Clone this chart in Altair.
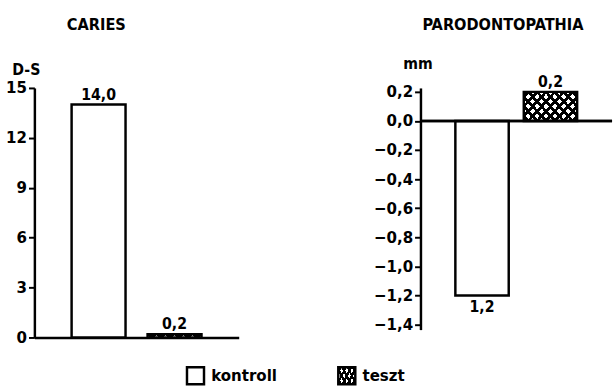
import altair as alt
import pandas as pd

groups = ["kontroll", "teszt"]
caries_values = [14.0, 0.2]
caries_labels = ["14,0", "0,2"]
paro_values = [-1.2, 0.2]
paro_labels = ["1,2", "0,2"]
caries_ticks = [0, 3, 6, 9, 12, 15]
paro_ticks = [0.2, 0.0, -0.2, -0.4, -0.6, -0.8, -1.0, -1.2, -1.4]

FONT = "DejaVu Sans Condensed, Liberation Sans Narrow, DejaVu Sans, sans-serif"
CLEAR = "rgba(0,0,0,0)"
SW = 2.5


def hatch(x1, y1, x2, y2, n=9, w=0.42):
    stops = [alt.GradientStop(color=CLEAR, offset=0)]
    for i in range(n):
        a = (i + (1 - w) / 2) / n
        b = a + w / n
        stops += [
            alt.GradientStop(color=CLEAR, offset=a),
            alt.GradientStop(color="black", offset=a),
            alt.GradientStop(color="black", offset=b),
            alt.GradientStop(color=CLEAR, offset=b),
        ]
    stops.append(alt.GradientStop(color=CLEAR, offset=1))
    return alt.Gradient(gradient="linear", stops=stops, x1=x1, y1=y1, x2=x2, y2=y2)


H1 = hatch(0, 0, 1.2, 0.6)
H2 = hatch(1, 0, -0.2, 0.6)
L1 = hatch(0, 0, 1.2, 0.6, n=5, w=0.45)
L2 = hatch(1, 0, -0.2, 0.6, n=5, w=0.45)


def bars(df, x, y):
    base = alt.Chart(df)
    white = base.mark_bar(fill="white", strokeWidth=0).encode(x=x, y=y, y2=alt.datum(0))
    teszt = base.transform_filter(alt.datum.group == "teszt")
    h1 = teszt.mark_bar(fill=H1, strokeWidth=0).encode(x=x, y=y, y2=alt.datum(0))
    h2 = teszt.mark_bar(fill=H2, strokeWidth=0).encode(x=x, y=y, y2=alt.datum(0))
    outline = base.mark_bar(fill=CLEAR, stroke="black", strokeWidth=SW).encode(x=x, y=y, y2=alt.datum(0))
    pos = base.transform_filter(alt.datum.value >= 0).mark_text(
        baseline="bottom", dy=-2, font=FONT, fontSize=16, fontWeight="bold", color="black"
    ).encode(x=x, y=y, text="label:N")
    neg = base.transform_filter(alt.datum.value < 0).mark_text(
        baseline="top", dy=4, font=FONT, fontSize=16, fontWeight="bold", color="black"
    ).encode(x=x, y=y, text="label:N")
    return [white, h1, h2, outline, pos, neg]


df_c = pd.DataFrame({"group": groups, "value": caries_values, "label": caries_labels})
df_p = pd.DataFrame({"group": groups, "value": paro_values, "label": paro_labels})

xc = alt.X("group:N", scale=alt.Scale(domain=groups, paddingInner=0.29, paddingOuter=0.49),
           axis=alt.Axis(title=None, labels=False, ticks=False, domain=True))
yc = alt.Y("value:Q", scale=alt.Scale(domain=[0, 15], nice=False, zero=False),
           axis=alt.Axis(values=caries_ticks, tickCount=20, format="d", title="D-S", titleAngle=0,
                         titleX=-23, titleY=-14, titleAlign="left", titleBaseline="alphabetic",
                         titleFontSize=16))

left = alt.layer(*bars(df_c, xc, yc)).properties(
    width=208, height=254,
    title=alt.TitleParams("CARIES", anchor="start", frame="group", dx=33, offset=28,
                          font=FONT, fontSize=16.5, fontWeight="bold", color="black"),
)

xp = alt.X("group:N", scale=alt.Scale(domain=groups, paddingInner=0.22, paddingOuter=0.51), axis=None)
yp = alt.Y("value:Q", scale=alt.Scale(domain=[-1.434, 0.227], nice=False, zero=False),
           axis=alt.Axis(values=paro_ticks, tickCount=20,
                         labelExpr="replace(format(datum.value, '.1f'), '.', ',')",
                         title="mm", titleAngle=0, titleX=-18, titleY=-20, titleAlign="left",
                         titleBaseline="alphabetic", titleFontSize=16))
zero_rule = alt.Chart(df_p).mark_rule(color="black", strokeWidth=SW).encode(y=alt.datum(0))

right = alt.layer(*bars(df_p, xp, yp), zero_rule).properties(
    width=195, height=246,
    title=alt.TitleParams("PARODONTOPATHIA", anchor="start", frame="group", dx=2, offset=22,
                          font=FONT, fontSize=16.5, fontWeight="bold", color="black"),
)

df_l = pd.DataFrame({"group": groups})
xl = alt.X("group:N", scale=alt.Scale(type="point", domain=groups, range=[164, 318], padding=0), axis=None)
lbase = alt.Chart(df_l)
leg = alt.layer(
    lbase.mark_square(size=300, fill="white", strokeWidth=0, opacity=1).encode(x=xl, y=alt.value(10)),
    lbase.transform_filter(alt.datum.group == "teszt").mark_square(size=300, fill=L1, strokeWidth=0, opacity=1).encode(x=xl, y=alt.value(10)),
    lbase.transform_filter(alt.datum.group == "teszt").mark_square(size=300, fill=L2, strokeWidth=0, opacity=1).encode(x=xl, y=alt.value(10)),
    lbase.mark_square(size=300, fill=CLEAR, stroke="black", strokeWidth=SW, opacity=1).encode(x=xl, y=alt.value(10)),
    lbase.mark_text(align="left", dx=16, font=FONT, fontSize=17, fontWeight="bold", color="black").encode(
        x=xl, y=alt.value(10), text="group:N"),
).properties(width=560, height=20)

chart = alt.vconcat(
    alt.hconcat(left, right, spacing=137),
    leg,
    spacing=17,
).properties(
    padding={"left": 5, "top": 14, "right": 0, "bottom": 0},
    background="white",
).configure_view(stroke=None).configure_axis(
    labelFont=FONT, labelFontSize=17, labelFontWeight="bold", labelColor="black",
    titleFont=FONT, titleFontWeight="bold", titleColor="black",
    domainColor="black", domainWidth=SW, tickColor="black", tickWidth=2, tickSize=6,
    labelPadding=2, grid=False, labelOverlap=False,
)

chart.save("out.html", embed_options={"renderer": "svg", "actions": False})
